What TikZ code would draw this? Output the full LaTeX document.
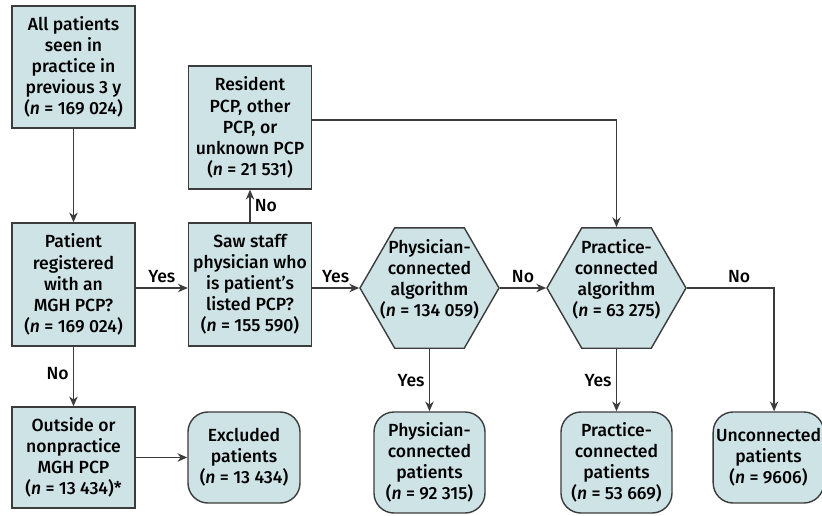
\documentclass[tikz,border=0pt]{standalone}
\usepackage{fontspec}
\setmainfont{Fira Sans}[BoldFont={Fira Sans Medium}, BoldItalicFont={Fira Sans Medium Italic}]
\usetikzlibrary{shapes.geometric,arrows.meta}

\definecolor{boxfill}{HTML}{CEE3E6}
\definecolor{boxline}{HTML}{3C3C3C}

\tikzset{
    txt/.style={font=\fontsize{12.5}{15}\selectfont\bfseries, align=center},
    box/.style={txt, draw=boxline, line width=1pt, fill=boxfill, inner sep=2pt,
        minimum width=3.075cm, minimum height=3.075cm},
    outcome/.style={box, rounded corners=0.5cm, minimum height=2.275cm},
    algo/.style={draw=boxline, line width=1pt, fill=boxfill, shape=regular polygon,
        regular polygon sides=6, minimum size=3.475cm, inner sep=0pt},
    hextext/.style={txt, yshift=0.22cm},
    arr/.style={draw=boxline, line width=1pt, -{Stealth[length=7pt,width=6pt]}},
    lbl/.style={txt, inner sep=3pt}
}

\begin{document}
\begin{tikzpicture}[x=0.025cm, y=-0.025cm]
    \useasboundingbox (0,0) rectangle (822,515);

    % Left column
    \node[box, minimum height=3.05cm] (all) at (73.5,67)
        {All patients\\seen in\\practice in\\previous 3 y\\(\textit{n} = 169 024)};
    \node[box] (reg) at (73.5,284.5)
        {Patient\\registered\\with an\\MGH PCP?\\(\textit{n} = 169 024)};
    \node[box, minimum height=2.525cm] (out) at (73.5,457.5)
        {Outside or\\nonpractice\\MGH PCP\\(\textit{n} = 13 434)*};

    % Second column
    \node[box] (res) at (250,127.5)
        {Resident\\PCP, other\\PCP, or\\unknown PCP\\(\textit{n} = 21 531)};
    \node[box] (saw) at (250,284.5)
        {Saw staff\\physician who\\is patient's\\listed PCP?\\(\textit{n} = 155 590)};
    \node[outcome, minimum width=2.8cm] (excl) at (244,457.5)
        {Excluded\\patients\\(\textit{n} = 13 434)};

    % Algorithms
    \node[algo, label={[hextext]center:{Physician-\\connected\\algorithm\\(\textit{n} = 134 059)}}]
        (phys) at (429.5,288) {};
    \node[algo, label={[hextext]center:{Practice-\\connected\\algorithm\\(\textit{n} = 63 275)}}]
        (prac) at (616.5,288) {};

    % Outcomes
    \node[outcome, minimum width=2.775cm, minimum height=2.525cm] (physp) at (429.5,462.5)
        {Physician-\\connected\\patients\\(\textit{n} = 92 315)};
    \node[outcome, minimum width=2.775cm, minimum height=2.525cm] (pracp) at (616.5,462.5)
        {Practice-\\connected\\patients\\(\textit{n} = 53 669)};
    \node[outcome, minimum width=2.65cm] (unc) at (768.5,457.5)
        {Unconnected\\patients\\(\textit{n} = 9606)};

    % Connectors
    \draw[arr] (all) -- (reg);
    \draw[arr] (reg) -- node[lbl, left, pos=0.45] {No} (out);
    \draw[arr] (out) -- (excl);
    \draw[arr] (reg.east |- phys) -- node[lbl, above] {Yes} (saw.west |- phys);
    \draw[arr] (saw.east |- phys) -- node[lbl, above] {Yes} (phys);
    \draw[arr] (saw) -- node[lbl, right] {No} (res);
    \draw[arr] ([yshift=0.19cm]res.east) -| (prac);
    \draw[arr] (phys) -- node[lbl, above] {No} (prac);
    \draw[arr] (phys) -- node[lbl, left] {Yes} (physp);
    \draw[arr] (prac) -- node[lbl, left] {Yes} (pracp);
    \draw[arr] (prac) -| node[lbl, above, pos=0.3] {No} ([xshift=0.14cm]unc.north);

\end{tikzpicture}
\end{document}
